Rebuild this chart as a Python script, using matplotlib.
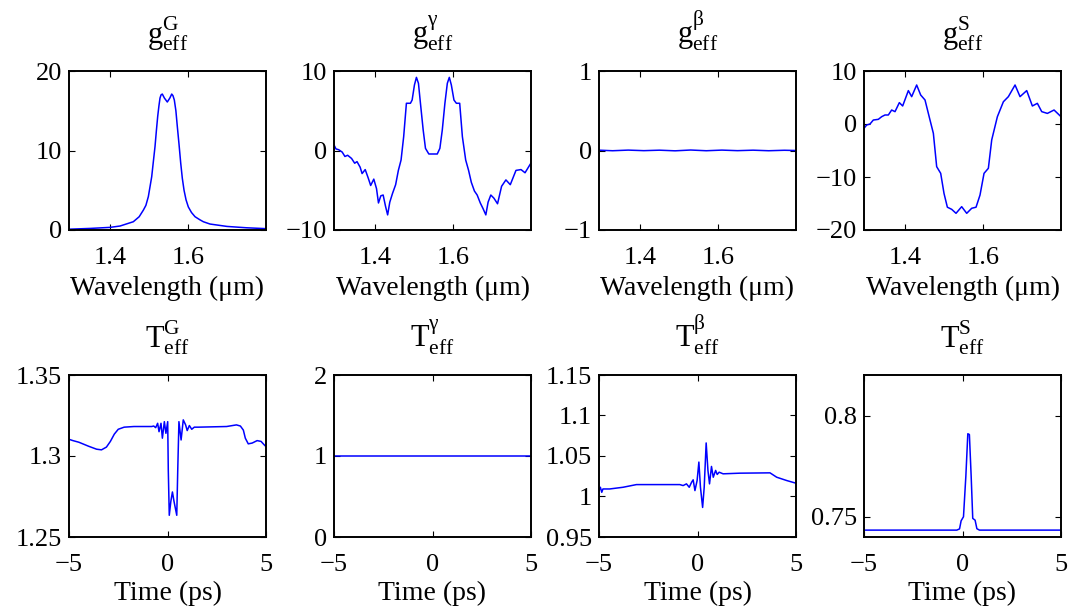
import matplotlib
matplotlib.use("Agg")
import matplotlib.pyplot as plt
from matplotlib.ticker import FixedLocator, FuncFormatter

plt.rcParams['font.family'] = ['Liberation Serif', 'DejaVu Serif']
plt.rcParams['mathtext.fontset'] = 'custom'
plt.rcParams['mathtext.rm'] = 'Liberation Serif'
plt.rcParams['mathtext.it'] = 'Liberation Serif:italic'
plt.rcParams['axes.unicode_minus'] = True

# ---------------- data ----------------
# g_eff^G
wl_gG = [1.295, 1.35, 1.40, 1.4258, 1.4599, 1.4749, 1.4856, 1.4921, 1.4984, 1.507,
         1.511, 1.5155, 1.519, 1.5224, 1.5255, 1.5283, 1.531, 1.5342, 1.5395, 1.547,
         1.5535, 1.5583, 1.5615, 1.565, 1.569, 1.5727, 1.577, 1.5814, 1.5855, 1.5899,
         1.595, 1.6009, 1.609, 1.6181, 1.63, 1.6394, 1.6565, 1.70, 1.75, 1.80]
val_gG = [0.1, 0.2, 0.33, 0.5, 1.04, 1.67, 2.5, 3.1, 4.2, 6.7,
          8.5, 10.5, 12.5, 14.3, 15.6, 16.6, 17.0, 17.1, 16.6, 16.1,
          16.6, 17.1, 16.9, 16.35, 15.0, 13.0, 10.8, 8.4, 6.5, 5.0,
          3.8, 2.9, 2.2, 1.67, 1.3, 1.04, 0.75, 0.45, 0.28, 0.17]

# g_eff^gamma
wl_gg = [1.295, 1.300, 1.307, 1.316, 1.323, 1.330, 1.340, 1.348, 1.354, 1.362,
         1.367, 1.375, 1.383, 1.389, 1.397, 1.404, 1.409, 1.415, 1.421, 1.427,
         1.4325, 1.438, 1.445, 1.453, 1.460, 1.4669, 1.4736, 1.4806, 1.4909, 1.4953,
         1.5012, 1.5063, 1.5115, 1.5166, 1.5236, 1.5295, 1.5381, 1.5597, 1.5664, 1.5726,
         1.5793, 1.5855, 1.5906, 1.5958, 1.6025, 1.6087, 1.6172, 1.6241, 1.6326, 1.640,
         1.647, 1.655, 1.662, 1.670, 1.677, 1.6842, 1.690, 1.697, 1.705, 1.7142,
         1.7246, 1.7357, 1.7469, 1.7615, 1.7744, 1.7847, 1.7984, 1.80]
val_gg = [0.7, 0.2, 0.1, -0.2, -0.75, -0.6, -1.0, -1.6, -1.4, -2.1,
          -2.9, -2.4, -3.5, -4.4, -3.6, -4.8, -6.6, -5.7, -5.6, -7.0,
          -8.1, -6.5, -5.4, -4.3, -2.5, -1.2, 1.74, 5.94, 5.94, 6.35,
          8.24, 9.2, 8.45, 5.94, 2.58, 0.27, -0.44, -0.44, 0.27, 2.58,
          5.94, 8.45, 9.2, 8.24, 6.35, 5.94, 5.94, 1.74, -1.2, -2.5,
          -4.0, -5.1, -5.6, -6.6, -7.3, -8.1, -6.5, -5.6, -6.0, -6.7,
          -4.5, -3.7, -4.3, -2.5, -2.4, -2.8, -1.7, -1.6]

# g_eff^beta
wl_gb = [1.295, 1.33, 1.37, 1.41, 1.45, 1.49, 1.53, 1.57, 1.61, 1.65, 1.69, 1.73, 1.77, 1.80]
val_gb = [0.004, -0.003, 0.005, -0.002, 0.004, -0.004, 0.006, -0.003, 0.005, -0.002, 0.004, -0.003, 0.003, 0.0]

# g_eff^S
wl_gS = [1.295, 1.3018, 1.3104, 1.3189, 1.3317, 1.3403, 1.3488, 1.3574, 1.3659, 1.3745,
         1.3856, 1.3941, 1.4087, 1.4172, 1.43, 1.4403, 1.4514, 1.4642, 1.4728, 1.4813,
         1.4916, 1.5001, 1.5087, 1.5198, 1.5309, 1.5454, 1.5583, 1.5711, 1.5822, 1.5924,
         1.6027, 1.6138, 1.6224, 1.6369, 1.6523, 1.6651, 1.6822, 1.695, 1.7121, 1.7266,
         1.7394, 1.7506, 1.7651, 1.7822, 1.80]
val_gS = [-0.82, -0.19, 0.0, 0.75, 0.88, 1.38, 1.7, 1.7, 2.64, 2.33,
          4.03, 3.4, 6.3, 5.16, 7.36, 5.47, 4.53, 0.75, -1.76, -8.05,
          -9.31, -13.1, -15.7, -16.1, -16.85, -15.6, -16.85, -15.9, -15.7, -13.4,
          -9.31, -8.36, -3.0, 1.38, 4.2, 5.16, 7.36, 5.16, 6.3, 3.4,
          3.9, 2.33, 2.0, 2.64, 1.38]

# T_eff^G
t_TG = [-5.0, -4.8, -4.5, -4.0, -3.6, -3.35, -3.1, -2.9, -2.7, -2.5,
        -2.2, -1.7, -0.8, -0.7, -0.6, -0.5, -0.43, -0.33, -0.26, -0.16,
        -0.08, 0.01, 0.04, 0.09, 0.17, 0.25, 0.33, 0.47, 0.52, 0.58,
        0.69, 0.8, 0.92, 1.0, 1.11, 1.23, 1.36, 1.56, 3.0, 3.5,
        3.7, 3.85, 3.95, 4.1, 4.3, 4.55, 4.75, 4.9, 5.0]
val_TG = [1.3103, 1.3095, 1.3085, 1.306, 1.3042, 1.3038, 1.3055, 1.309, 1.3135, 1.3165,
          1.3178, 1.3182, 1.3182, 1.3185, 1.3175, 1.3202, 1.315, 1.3202, 1.311, 1.3212,
          1.314, 1.3212, 1.2913, 1.2634, 1.272, 1.2778, 1.272, 1.2634, 1.2913, 1.3212,
          1.3099, 1.3223, 1.3192, 1.3157, 1.3188, 1.3165, 1.3178, 1.3178, 1.3182, 1.3192,
          1.3185, 1.316, 1.311, 1.3075, 1.308, 1.3095, 1.309, 1.307, 1.3058]

# T_eff^gamma
t_Tg = [-5.0, 5.0]
val_Tg = [1.0, 1.0]

# T_eff^beta
t_Tb = [-5.0, -4.93, -4.86, -4.8, -4.46, -3.78, -3.1, -2.08, -1.07, -0.897,
        -0.73, -0.56, -0.42, -0.30, -0.22, -0.13, -0.02, 0.07, 0.15, 0.26,
        0.34, 0.44, 0.53, 0.61, 0.71, 0.80, 0.92, 1.0, 1.10, 1.30,
        2.15, 3.68, 4.02, 4.53, 5.0]
val_Tb = [1.0073, 1.0114, 1.0052, 1.0093, 1.0093, 1.0114, 1.0147, 1.0147, 1.0147, 1.0147,
          1.0135, 1.0156, 1.0114, 1.0176, 1.0206, 1.0073, 1.0197, 1.0425, 1.0114, 0.9865,
          1.0114, 1.0661, 1.0322, 1.0156, 1.0371, 1.0238, 1.0322, 1.0272, 1.030, 1.028,
          1.0288, 1.0292, 1.0238, 1.0197, 1.0164]

# T_eff^S
t_TS = [-5.0, -0.29, -0.15, -0.07, 0.05, 0.17, 0.27, 0.35, 0.44, 0.52, 0.64, 0.73, 0.86, 5.0]
val_TS = [0.7434, 0.7434, 0.744, 0.748, 0.750, 0.770, 0.791, 0.7906, 0.770, 0.7492, 0.7483, 0.7441, 0.7434, 0.7434]

top_titles = ['G', 'γ', 'β', 'S']
bot_titles = ['G', 'γ', 'β', 'S']
top_data = [(wl_gG, val_gG), (wl_gg, val_gg), (wl_gb, val_gb), (wl_gS, val_gS)]
bot_data = [(t_TG, val_TG), (t_Tg, val_Tg), (t_Tb, val_Tb), (t_TS, val_TS)]
top_ylims = [(0, 20), (-10, 10), (-1, 1), (-20, 10)]
top_yticks = [[0, 10, 20], [-10, 0, 10], [-1, 0, 1], [-20, -10, 0, 10]]
bot_ylims = [(1.25, 1.35), (0, 2), (0.95, 1.15), (0.74, 0.82)]
bot_yticks = [[1.25, 1.3, 1.35], [0, 1, 2], [0.95, 1.0, 1.05, 1.1, 1.15], [0.75, 0.8]]
wl_lim = (1.295, 1.80)
wl_ticks = [1.4, 1.6]
t_lim = (-5, 5)
t_ticks = [-5, 0, 5]

# ---------------- figure ----------------
W, H = 1083, 611
fig = plt.figure(figsize=(W / 100, H / 100), dpi=100)

lefts = [69, 334, 599, 864]
aw = 197
top_row = (71, 230)
bot_row = (375, 537)

fmt = FuncFormatter(lambda v, p: ('%g' % round(v, 4)).replace('-', '\u2212'))
FS = 19

def style(ax):
    ax.tick_params(direction='in', top=True, right=True, length=4, width=0.8,
                   labelsize=FS, pad=5)
    ax.tick_params(axis='x', pad=12)
    for s in ax.spines.values():
        s.set_linewidth(1.4)
    ax.xaxis.set_major_formatter(fmt)
    ax.yaxis.set_major_formatter(fmt)

for i in range(4):
    # top row
    y0, y1 = top_row
    ax = fig.add_axes([lefts[i] / W, 1 - y1 / H, aw / W, (y1 - y0) / H])
    x, y = top_data[i]
    ax.plot(x, y, color='#0000ff', lw=1.1)
    ax.set_xlim(*wl_lim)
    ax.set_ylim(*top_ylims[i])
    ax.xaxis.set_major_locator(FixedLocator(wl_ticks))
    ax.yaxis.set_major_locator(FixedLocator(top_yticks[i]))
    style(ax)
    ax.set_xlabel('Wavelength (μm)', fontsize=20, labelpad=5)
    ax.set_title(r'$\mathrm{g}^{\mathrm{%s}}_{\mathrm{eff}}$' % top_titles[i], fontsize=22, pad=20)

    # bottom row
    y0, y1 = bot_row
    ax = fig.add_axes([lefts[i] / W, 1 - y1 / H, aw / W, (y1 - y0) / H])
    x, y = bot_data[i]
    ax.plot(x, y, color='#0000ff', lw=1.1)
    ax.set_xlim(*t_lim)
    ax.set_ylim(*bot_ylims[i])
    ax.xaxis.set_major_locator(FixedLocator(t_ticks))
    ax.yaxis.set_major_locator(FixedLocator(bot_yticks[i]))
    style(ax)
    ax.set_xlabel('Time (ps)', fontsize=20, labelpad=4)
    ax.set_title(r'$\mathrm{T}^{\mathrm{%s}}_{\mathrm{eff}}$' % bot_titles[i], fontsize=22, pad=20)

fig.savefig('out.png', dpi=100)
